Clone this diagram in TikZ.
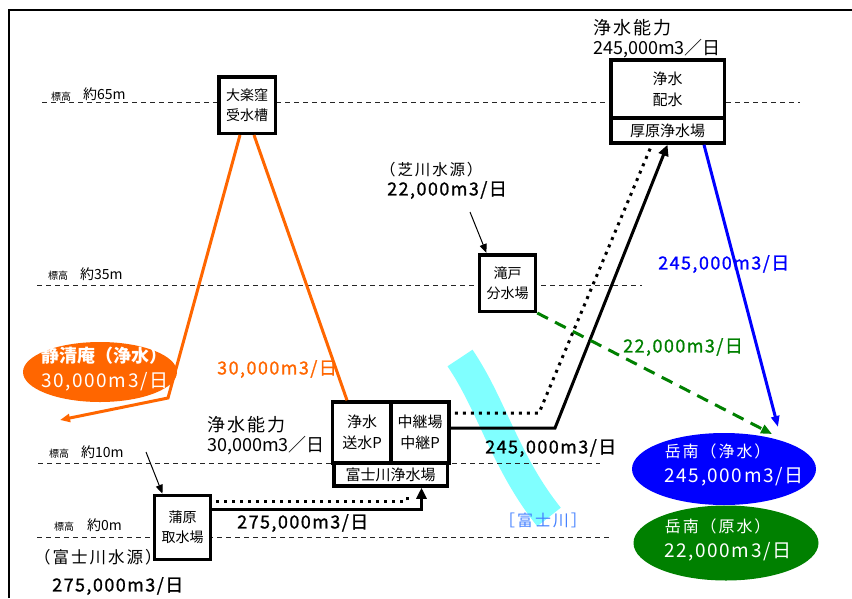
\documentclass[tikz,border=0pt]{standalone}
\usepackage{fontspec}
\setmainfont{Noto Sans CJK JP}
\newfontfamily\gth[LetterSpace=8,FakeBold=1]{Noto Sans CJK JP}
\newfontfamily\gthw[LetterSpace=8]{Noto Sans CJK JP}
\newfontfamily\spaced[LetterSpace=12]{Noto Sans CJK JP}
\usetikzlibrary{shapes.geometric,arrows.meta}
\definecolor{ora}{RGB}{255,102,0}
\definecolor{blu}{RGB}{0,0,255}
\definecolor{grn}{RGB}{0,128,0}
\definecolor{riv}{RGB}{128,255,255}
\definecolor{rivtxt}{RGB}{70,130,255}
\tikzset{
 box/.style={draw, line width=3.5pt, fill=white, inner sep=0pt, align=center, font=\fontsize{14}{20}\selectfont},
 cell/.style={box, font=\fontsize{15}{21}\selectfont},
 level/.style={draw=black!85, line width=1pt, dash pattern=on 5pt off 4pt},
 lbl/.style={anchor=west, inner sep=0pt, align=left, font=\fontsize{18}{21}\selectfont},
 num/.style={anchor=west, inner sep=0pt, font=\gth\fontsize{18}{22}\selectfont},
 hsmall/.style={anchor=west, inner sep=0pt, font=\fontsize{10}{12}\selectfont},
 hlev/.style={anchor=west, inner sep=0pt, font=\fontsize{14}{16}\selectfont},
 flow/.style={line width=3pt, line join=miter},
 dotline/.style={line width=3pt, dash pattern=on 3pt off 5pt},
 bigtip/.style={-{Triangle[length=11pt,width=10pt]}},
 thintip/.style={line width=1pt, -{Triangle[length=9pt,width=7pt]}},
 blob/.style={ellipse, inner sep=0pt},
 blobtxt/.style={text=white, align=left, inner sep=0pt, font=\gthw\fontsize{19}{25}\selectfont},
}
\begin{document}
\begin{tikzpicture}[x=1pt,y=-1pt]
\useasboundingbox (0,0) rectangle (852,598);
% frame
\draw[line width=2pt] (9,598) -- (9,9.5) -- (852,9.5);
% river
\draw[riv, line width=30pt] (460,358) .. controls (492,405) and (505,462) .. (549,517);
% level lines
\draw[level] (42,102) -- (800,102);
\draw[level] (37,285) -- (642,285);
\draw[level] (38,463) -- (600,463);
\draw[level] (37,537) -- (610,537);
\node[hsmall] (h65a) at (51,97) {標高};
\node[hlev] (h65b) at (83,94) {約65m};
\node[hsmall] (h35a) at (48,276) {標高};
\node[hlev] (h35b) at (80,274) {約35m};
\node[hsmall] (h10a) at (49,454) {標高};
\node[hlev] (h10b) at (81,452) {約10m};
\node[hsmall] (h00a) at (54,527) {標高};
\node[hlev] (h00b) at (87,525) {約0m};

% boxes
\node[box, minimum width=56.5, minimum height=56.5] (okubo) at (247,105) {大楽窪\\受水槽};
\node[cell, minimum width=113.5, minimum height=58] (atsuU) at (667.5,89) {浄水\\配水};
\node[cell, minimum width=113.5, minimum height=25] (atsuL) at (667.5,130.5) {厚原浄水場};
\node[cell, minimum width=59, minimum height=61] (fujiA) at (362,432.5) {浄水\\送水P};
\node[cell, minimum width=58, minimum height=61] (fujiB) at (420,432.5) {中継場\\中継P};
\node[cell, minimum width=113.5, minimum height=23] (fujiC) at (390.5,474.5) {富士川浄水場};
\node[box, minimum width=56, minimum height=64] (kanbara) at (182.5,527.5) {蒲原\\取水場};
\node[box, minimum width=56, minimum height=56.5] (takido) at (507.5,283) {滝戸\\分水場};

% ellipses
\node[blob, fill=ora, minimum width=154, minimum height=60] (seiE) at (100,372) {};
\node[blobtxt] (seiT) at (105,369.5) {{\rmfamily\bfseries\fontsize{18}{25}\selectfont 静清庵（浄水）}\\30,000m3/日};
\node[blob, fill=blu, minimum width=184, minimum height=72] (gakuE) at (724,469) {};
\node[blobtxt] (gakuT) at (734,464.5) {{\spaced\fontsize{16}{25}\selectfont 岳南（浄水）}\\245,000m3/日};
\node[blob, fill=grn, minimum width=185, minimum height=75] (genE) at (726,543) {};
\node[blobtxt] (genT) at (728,539.5) {{\spaced\fontsize{16}{25}\selectfont 岳南（原水）}\\22,000m3/日};

% labels
\node[lbl] (cap1a) at (593,28) {{\spaced 浄水能力}};
\node[lbl] (cap1b) at (593,49) {245,000m3／日};
\node[lbl] (cap2a) at (207,425) {{\spaced 浄水能力}};
\node[lbl] (cap2b) at (207,446) {30,000m3／日};
\node[lbl, font=\spaced\fontsize{15.5}{20}\selectfont] (shiba) at (380,170) {（芝川水源）};
\node[num] (shibaN) at (387,190) {22,000m3/日};
\node[lbl, font=\spaced\fontsize{16.5}{20}\selectfont] (fsrc) at (34,557) {（富士川水源）};
\node[num] (fsrcN) at (52,586) {275,000m3/日};
\node[num] (n275) at (237,523) {275,000m3/日};
\node[num, text=ora] (n30) at (217,369) {30,000m3/日};
\node[num] (n245) at (485,448) {245,000m3/日};
\node[num, text=blu] (n245b) at (658,264) {245,000m3/日};
\node[num, text=grn] (n22) at (623,347) {22,000m3/日};
\node[lbl, text=rivtxt, font=\spaced\fontsize{16}{18}\selectfont] (rivT) at (499,520) {［富士川］};

% coordinates
\coordinate (ob1) at (168,398);
\coordinate (oe) at (60,420);
\coordinate (b1) at (555,428);
\coordinate (d1) at (539,413);
\coordinate (bluetip) at (778,427);
\coordinate (greentip) at (772,434);
\coordinate (shibaS) at (470,212);
\coordinate (fsrcS) at (146,452);

% connectors
\draw[ora, flow, -{Triangle[length=10pt,width=8pt]}] ([xshift=-7pt]okubo.south) -- (ob1) -- (oe);
\draw[ora, flow] ([xshift=7pt]okubo.south) -- ([xshift=-15pt]fujiA.north);
\draw[flow, bigtip] ([yshift=18pt]kanbara.east) -| ([xshift=31pt]fujiC.south);
\draw[dotline] ([yshift=26pt,xshift=4pt]kanbara.east) -| ([xshift=16.5pt,yshift=-5pt]fujiC.south);
\draw[flow, bigtip] ([yshift=4.5pt]fujiB.east) -- (b1) -- (atsuL.south);
\draw[dotline] ([yshift=19.5pt,xshift=4pt]fujiB.east) -- (d1) -- ([xshift=-17pt,yshift=-3pt]atsuL.south);
\draw[blu, flow, -{Triangle[length=11pt,width=8pt]}] ([xshift=36.5pt]atsuL.south) -- (bluetip);
\draw[grn, flow, dash pattern=on 12pt off 8pt, -{Triangle[length=11pt,width=9pt]}] (takido.south east) -- (greentip);
\draw[thintip] (shibaS) -- ([xshift=-21pt]takido.north);
\draw[thintip] (fsrcS) -- ([xshift=-20pt]kanbara.north);
\end{tikzpicture}
\end{document}
